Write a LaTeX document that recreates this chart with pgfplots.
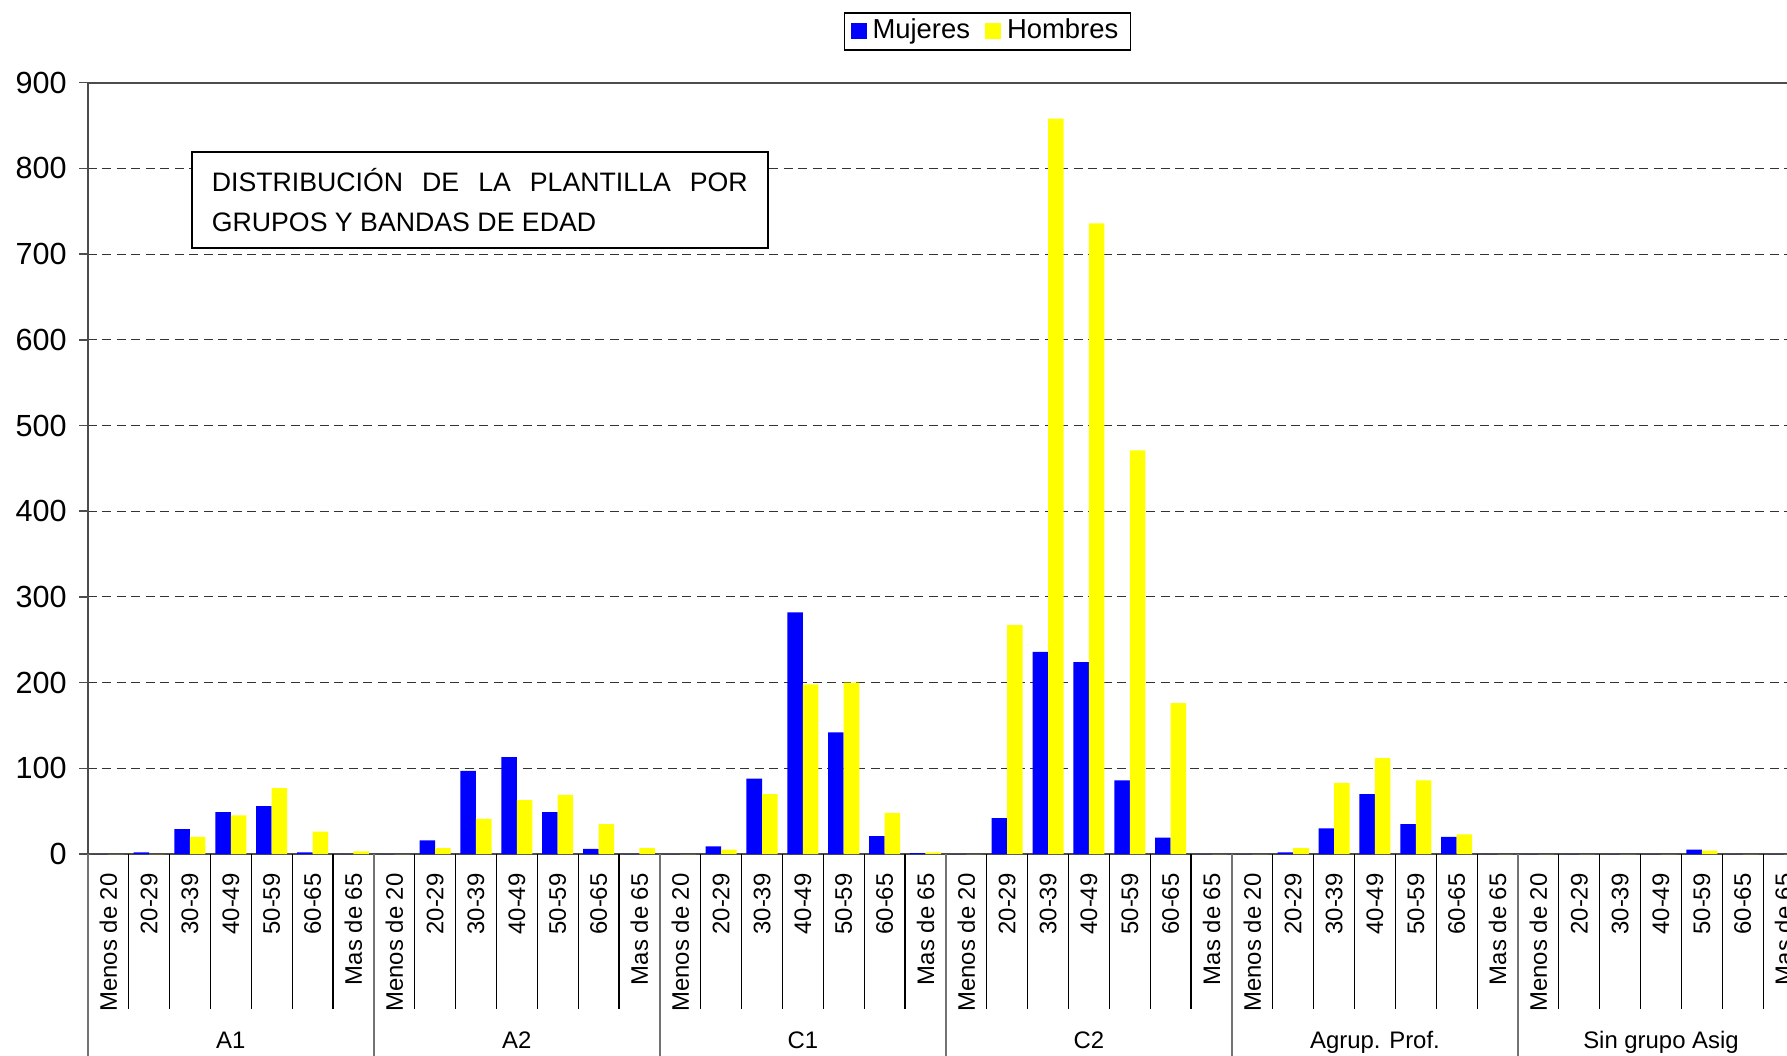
\documentclass[border=0pt]{standalone}
\usepackage{pgfplots}
\pgfplotsset{compat=1.18}
\usepackage{pgfplotstable}
\usepackage{fontspec}
\setmainfont{Liberation Sans}
\definecolor{barblue}{RGB}{0,0,255}
\definecolor{baryellow}{RGB}{255,255,0}

% x: category index, m: Mujeres, h: Hombres
\pgfplotstableread{
x m h
0 0 0
1 2 0
2 29 20
3 49 45
4 56 77
5 2 26
6 0 3
7 0 0
8 16 7
9 97 41
10 113 63
11 49 69
12 6 35
13 0 7
14 0 0
15 9 5
16 88 70
17 282 198
18 142 200
19 21 48
20 1 2
21 0 0
22 42 267
23 236 858
24 224 736
25 86 471
26 19 176
27 0 0
28 0 0
29 2 7
30 30 83
31 70 112
32 35 86
33 20 23
34 0 0
35 0 0
36 0 0
37 0 0
38 0 0
39 5 4
40 0 0
41 0 0
}\datatable

\begin{document}
\begin{tikzpicture}
\begin{axis}[
  at={(0,0)}, anchor=south west,
  scale only axis,
  width=171.62mm, height=77.13mm,
  xmin=-0.5, xmax=41.5,
  ymin=0, ymax=900,
  ytick={0,100,...,900},
  ymajorgrids,
  grid style={black!80, line width=0.1mm, dash pattern=on 0.9mm off 0.55mm},
  axis line style={draw=black!70, line width=0.2mm},
  ytick pos=left,
  tick align=outside,
  major tick length=0.87mm,
  y tick style={black!70, line width=0.15mm},
  x tick style={draw=none},
  xtick={0,...,41},
  xticklabels={Menos de 20,20-29,30-39,40-49,50-59,60-65,Mas de 65,
               Menos de 20,20-29,30-39,40-49,50-59,60-65,Mas de 65,
               Menos de 20,20-29,30-39,40-49,50-59,60-65,Mas de 65,
               Menos de 20,20-29,30-39,40-49,50-59,60-65,Mas de 65,
               Menos de 20,20-29,30-39,40-49,50-59,60-65,Mas de 65,
               Menos de 20,20-29,30-39,40-49,50-59,60-65,Mas de 65},
  x tick label style={rotate=90, anchor=east, font=\fontsize{6.8}{8}\selectfont, inner sep=0pt, xshift=-1.0mm},
  y tick label style={font=\fontsize{8.7}{10}\selectfont},
  /pgf/number format/assume math mode=true,
  clip=false,
  legend columns=2,
  legend style={at={(axis description cs:0.5242,1.0665)}, anchor=center,
    draw=black, line width=0.15mm, font=\fontsize{7.8}{9}\selectfont,
    inner xsep=0.6mm, inner ysep=0.4mm,
    /tikz/every even column/.append style={column sep=0.9mm},
    nodes={inner xsep=0.6mm, inner ysep=0.2mm}},
]
\addplot[ybar, draw=none, fill=barblue, bar width=0.38, bar shift=-0.19,
  legend image code/.code={\fill[barblue] (0mm,-0.8mm) rectangle (1.6mm,0.8mm);}]
  table[x=x, y=m] {\datatable};
\addlegendentry{Mujeres}
\addplot[ybar, draw=none, fill=baryellow, bar width=0.38, bar shift=0.19,
  legend image code/.code={\fill[baryellow] (0mm,-0.8mm) rectangle (1.6mm,0.8mm);}]
  table[x=x, y=h] {\datatable};
\addlegendentry{Hombres}

% category separators
\pgfplotsinvokeforeach{0.5,1.5,2.5,3.5,4.5,5.5,7.5,8.5,9.5,10.5,11.5,12.5,
  14.5,15.5,16.5,17.5,18.5,19.5,21.5,22.5,23.5,24.5,25.5,26.5,
  28.5,29.5,30.5,31.5,32.5,33.5,35.5,36.5,37.5,38.5,39.5,40.5}{
  \draw[black, line width=0.12mm] (axis cs:#1,0) -- ++(0mm,-15.5mm);
}
% group separators
\pgfplotsinvokeforeach{-0.5,6.5,13.5,20.5,27.5,34.5,41.5}{
  \draw[black!55, line width=0.15mm] (axis cs:#1,0) -- ++(0mm,-21mm);
}
% group labels
\node[anchor=base, font=\fontsize{6.8}{8}\selectfont] at ([yshift=-19.4mm]axis cs:3,0) {A1};
\node[anchor=base, font=\fontsize{6.8}{8}\selectfont] at ([yshift=-19.4mm]axis cs:10,0) {A2};
\node[anchor=base, font=\fontsize{6.8}{8}\selectfont] at ([yshift=-19.4mm]axis cs:17,0) {C1};
\node[anchor=base, font=\fontsize{6.8}{8}\selectfont] at ([yshift=-19.4mm]axis cs:24,0) {C2};
\node[anchor=base, font=\fontsize{6.8}{8}\selectfont] at ([yshift=-19.4mm]axis cs:31,0) {Agrup. Prof.};
\node[anchor=base, font=\fontsize{6.8}{8}\selectfont] at ([yshift=-19.4mm]axis cs:38,0) {Sin grupo Asig};
\end{axis}

% title box
\node[draw=black, line width=0.2mm, fill=white, minimum width=57.65mm, minimum height=9.57mm,
  inner xsep=2mm, align=left, font=\fontsize{7.6}{11.4}\selectfont]
  at (39.2mm,65.4mm)
  {\makebox[53.6mm][s]{DISTRIBUCIÓN DE LA PLANTILLA POR}\\GRUPOS Y BANDAS DE EDAD};

\pgfresetboundingbox
\useasboundingbox (-8.78mm,-20.1mm) rectangle (169.92mm,85.4mm);
\end{tikzpicture}
\end{document}
